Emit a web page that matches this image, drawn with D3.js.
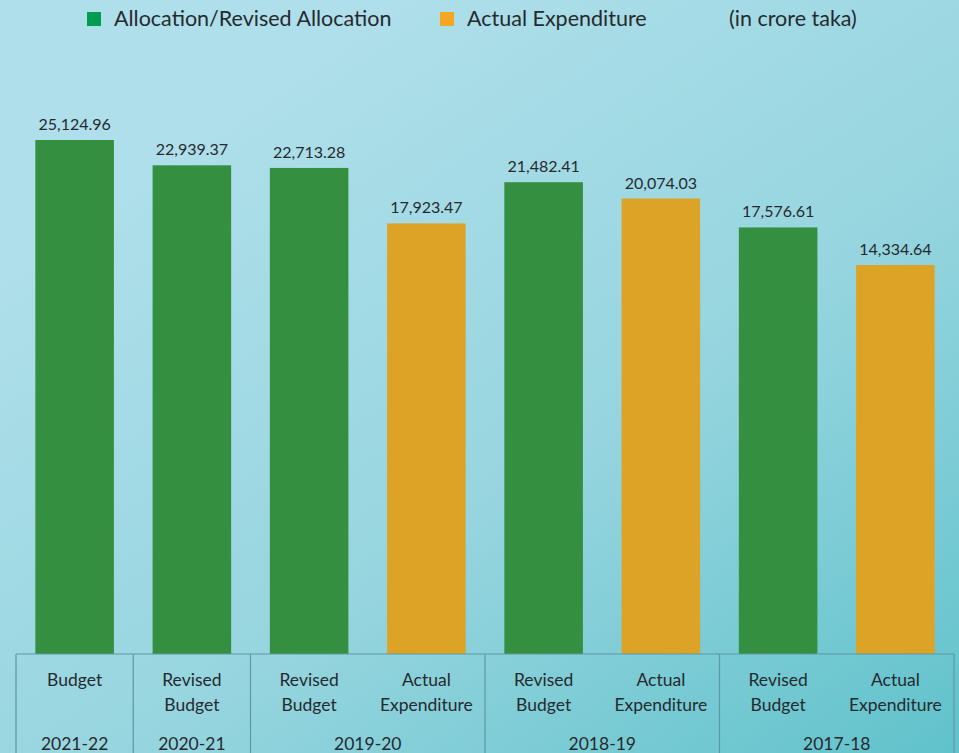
<!DOCTYPE html>
<meta charset="utf-8">
<style>
    body { margin: 0; }
    svg { display: block; font-family: Lato, "Open Sans", sans-serif; }
    .value { font-size: 16px; fill: #262a2e; text-anchor: middle; }
    .cat { font-size: 17.5px; fill: #262a2e; text-anchor: middle; }
    .legend { font-size: 21.5px; fill: #262a2e; }
    .grid { stroke: #5f97a2; stroke-width: 1.2; fill: none; }
</style>
<svg width="959" height="753"></svg>
<script src="https://cdn.jsdelivr.net/npm/d3@7"></script>
<script>

    // values in crore taka
    var labels = ["Budget", "Revised Budget", "Revised Budget", "Actual Expenditure",
        "Revised Budget", "Actual Expenditure", "Revised Budget", "Actual Expenditure"];
    var years = ["2021-22", "2020-21", "2019-20", "2019-20", "2018-19", "2018-19", "2017-18", "2017-18"];
    var kinds = ["alloc", "alloc", "alloc", "actual", "alloc", "actual", "alloc", "actual"];
    var values = [25124.96, 22939.37, 22713.28, 17923.47, 21482.41, 20074.03, 17576.61, 14334.64];
    var yearGroups = ["2021-22", "2020-21", "2019-20", "2018-19", "2017-18"];

    var svg = d3.select("svg"),
        width = +svg.attr("width"),
        height = +svg.attr("height");

    var defs = svg.append("defs");
    var grad = defs.append("linearGradient").attr("id", "bg")
        .attr("x1", "0.25").attr("y1", "0.15").attr("x2", "1").attr("y2", "1");
    grad.append("stop").attr("offset", "0").attr("stop-color", "#aedfea");
    grad.append("stop").attr("offset", "0.5").attr("stop-color", "#96d5df");
    grad.append("stop").attr("offset", "1").attr("stop-color", "#60c2cb");
    svg.append("rect").attr("width", width).attr("height", height).attr("fill", "url(#bg)");

    var base = 654;
    var ids = d3.range(values.length);

    var x = d3.scaleBand()
        .domain(ids)
        .range([16, 954])
        .paddingInner(0.33)
        .paddingOuter(0.165);

    // the axis in the original does not start at zero
    var y = d3.scaleLinear()
        .domain([-19240, 25124.96])
        .range([base, 140]);

    var color = { alloc: "#348f41", actual: "#dca326" };

    svg.selectAll(".bar")
        .data(ids)
        .enter().append("rect")
        .attr("class", "bar")
        .attr("x", function (i) { return x(i); })
        .attr("y", function (i) { return y(values[i]); })
        .attr("width", x.bandwidth())
        .attr("height", function (i) { return base - y(values[i]); })
        .attr("fill", function (i) { return color[kinds[i]]; });

    svg.selectAll(".value")
        .data(ids)
        .enter().append("text")
        .attr("class", "value")
        .attr("x", function (i) { return x(i) + x.bandwidth() / 2; })
        .attr("y", function (i) { return y(values[i]) - 10; })
        .text(function (i) { return d3.format(",.2f")(values[i]); });

    // category table below the bars
    var step = x.step();
    function cellLeft(i) { return x(i) - step * 0.165; }

    svg.append("line").attr("class", "grid")
        .attr("x1", 16).attr("x2", 954).attr("y1", base).attr("y2", base);

    var bounds = [0];
    years.forEach(function (yr, i) { if (i > 0 && yr !== years[i - 1]) bounds.push(i); });
    bounds.push(values.length);
    bounds.forEach(function (b) {
        var xx = b < values.length ? cellLeft(b) : 954;
        svg.append("line").attr("class", "grid")
            .attr("x1", xx).attr("x2", xx).attr("y1", base).attr("y2", height);
    });

    var cat = svg.selectAll(".cat")
        .data(ids)
        .enter().append("text")
        .attr("class", "cat")
        .attr("x", function (i) { return x(i) + x.bandwidth() / 2; })
        .attr("y", 686);
    cat.each(function (i) {
        var words = labels[i].split(" ");
        var t = d3.select(this);
        words.forEach(function (w, k) {
            t.append("tspan").attr("x", x(i) + x.bandwidth() / 2)
                .attr("dy", k === 0 ? 0 : 25).text(w);
        });
    });

    yearGroups.forEach(function (yr) {
        var idx = ids.filter(function (i) { return years[i] === yr; });
        var cx = (x(idx[0]) + x(idx[idx.length - 1]) + x.bandwidth()) / 2;
        svg.append("text").attr("class", "cat")
            .attr("x", cx).attr("y", 750).text(yr);
    });

    // legend
    var legend = [
        { label: "Allocation/Revised Allocation", fill: "#009c4f", x: 87 },
        { label: "Actual Expenditure", fill: "#f5a623", x: 440 }
    ];
    legend.forEach(function (l) {
        svg.append("rect").attr("x", l.x).attr("y", 12)
            .attr("width", 14).attr("height", 14).attr("fill", l.fill);
        svg.append("text").attr("class", "legend")
            .attr("x", l.x + 27).attr("y", 26).text(l.label);
    });
    svg.append("text").attr("class", "legend")
        .attr("x", 729).attr("y", 26).text("(in crore taka)");

</script>
